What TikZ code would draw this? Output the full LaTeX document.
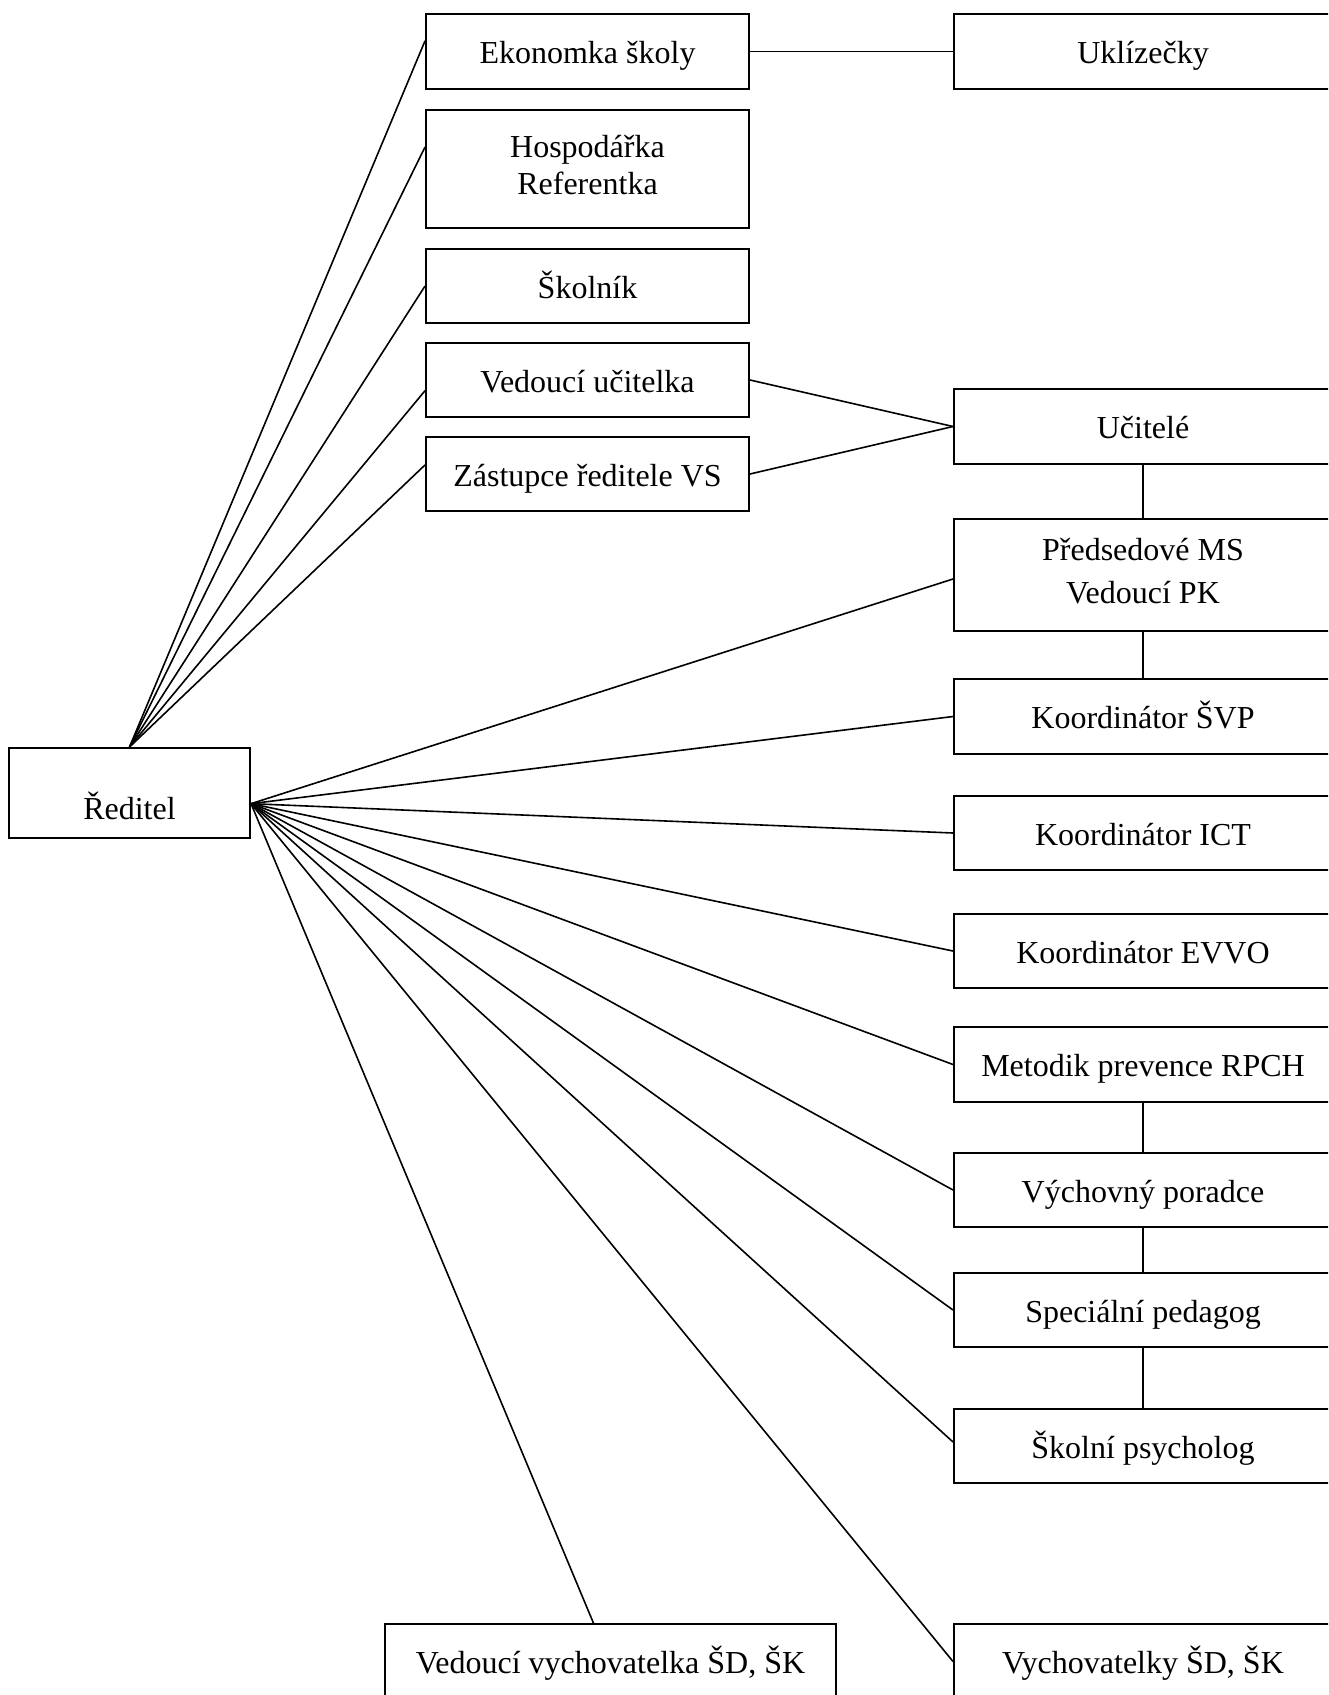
\documentclass[tikz,border=0pt]{standalone}
\usepackage{fontspec}
\setmainfont{Liberation Serif}
\usepackage{tikz}

\begin{document}
\begin{tikzpicture}[x=0.375pt, y=-0.375pt,
    every node/.style={font=\fontsize{12}{14}\selectfont},
    box/.style={draw=black, line width=0.75pt, inner sep=0pt, minimum height=28.1pt,
      text height=9pt, text depth=0pt, align=center},
    lbox/.style={box, minimum width=121.1pt},
    rbox/.style={box, minimum width=141.75pt},
    every edge/.style={draw, line width=0.6pt}]
    \useasboundingbox (0,0) rectangle (1328,1695);
    \clip (0,0) rectangle (1328,1695);
    % left column
    \node[box, minimum width=90.4pt, minimum height=33.75pt, text height=22pt, text depth=2pt] (R) at (129.5,793) {Ředitel};
    \node[lbox] (E) at (587.5,51.5) {Ekonomka školy};
    \node[lbox, minimum height=44.25pt, text height=19pt, text depth=0pt] (H) at (587.5,169) {Hospodářka\\Referentka};
    \node[lbox] (S) at (587.5,286) {Školník};
    \node[lbox] (V) at (587.5,380) {Vedoucí učitelka};
    \node[lbox] (Z) at (587.5,474) {Zástupce ředitele VS};
    % right column
    \node[rbox] (UK) at (1143,51.5) {Uklízečky};
    \node[rbox] (U) at (1143,426.5) {Učitelé};
    \node[rbox, minimum height=42pt, text height=21pt, text depth=0pt] (P) at (1143,575) {Předsedové MS\\[2pt]Vedoucí PK};
    \node[rbox] (K1) at (1143,716.5) {Koordinátor ŠVP};
    \node[rbox] (K2) at (1143,833) {Koordinátor ICT};
    \node[rbox] (K3) at (1143,951) {Koordinátor EVVO};
    \node[rbox] (M) at (1143,1064.5) {Metodik prevence RPCH};
    \node[rbox] (VP) at (1143,1190) {Výchovný poradce};
    \node[rbox] (SP) at (1143,1310) {Speciální pedagog};
    \node[rbox] (PS) at (1143,1446) {Školní psycholog};
    \node[rbox] (VY) at (1143,1661.5) {Vychovatelky ŠD, ŠK};
    \node[box, minimum width=169.1pt] (VV) at (610.5,1661.5) {Vedoucí vychovatelka ŠD, ŠK};
    \coordinate (Rr) at ([yshift=-4pt]R.east);
    % upwards from Reditel
    \path (R.north) edge ([yshift=4pt]E.west);
    \path (R.north) edge ([yshift=8.25pt]H.west);
    \path (R.north) edge (S.west);
    \path (R.north) edge ([yshift=-4pt]V.west);
    \path (R.north) edge ([yshift=3.4pt]Z.west);
    % to the right
    \path (Rr) edge ([yshift=-1.5pt]P.west);
    \path (Rr) edge (K1.west);
    \path (Rr) edge (K2.west);
    \path (Rr) edge (K3.west);
    \path (Rr) edge (M.west);
    \path (Rr) edge (VP.west);
    \path (Rr) edge (SP.west);
    \path (Rr) edge ([yshift=1.5pt]PS.west);
    \path (Rr) edge (VY.west);
    \path (Rr) edge ([xshift=-6.4pt]VV.north);
    % the rest
    \path (E) edge (UK);
    \path (V.east) edge (U.west);
    \path (Z.east) edge (U.west);
    \path (U) edge (P);
    \path (P) edge (K1);
    \path (M) edge (VP);
    \path (VP) edge (SP);
    \path (SP) edge (PS);
\end{tikzpicture}
\end{document}
